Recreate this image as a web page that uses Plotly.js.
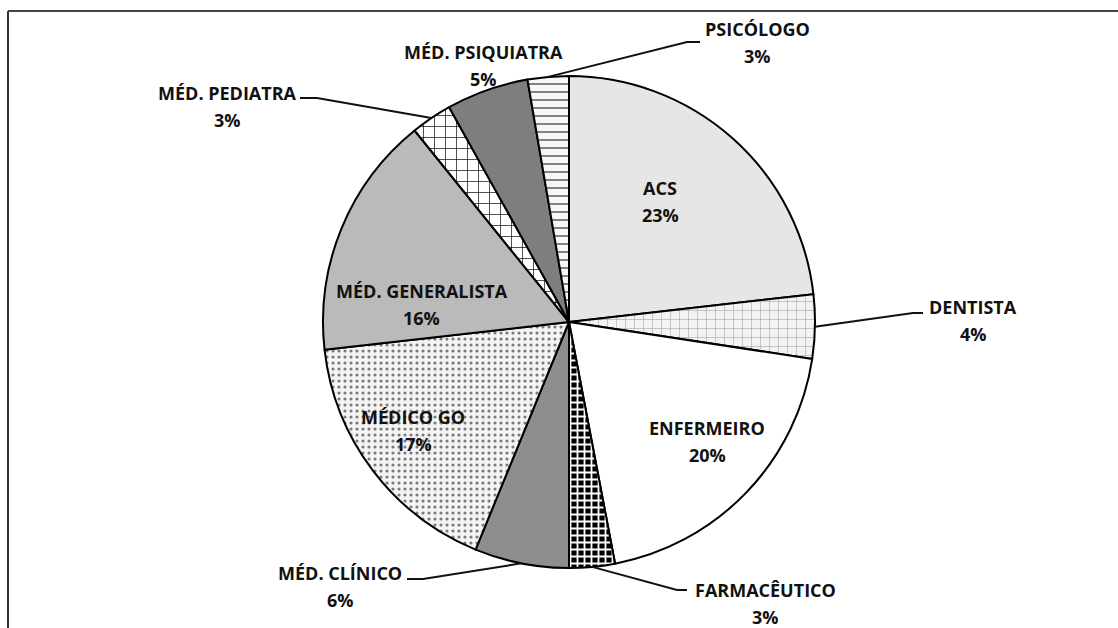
<!DOCTYPE html>
<html>
<head>
<meta charset="utf-8">
<script src="https://cdn.plot.ly/plotly-3.0.1.min.js"></script>
<style>
  html, body { margin: 0; padding: 0; background: #fff; }
  #plot { width: 1118px; height: 628px; }
</style>
</head>
<body>
<div id="plot"></div>
<script>
// slices, clockwise from 12 o'clock
var categories = ['ACS', 'DENTISTA', 'ENFERMEIRO', 'FARMACÊUTICO', 'MÉD. CLÍNICO',
                  'MÉDICO GO', 'MÉD. GENERALISTA', 'MÉD. PEDIATRA', 'MÉD. PSIQUIATRA', 'PSICÓLOGO'];
var values = [23.2, 4.2, 19.6, 3.0, 6.2, 17.0, 16.0, 2.7, 5.4, 2.7];

// fills (solid colour or pattern) per slice
var fillColors    = ['#e6e6e6', '#f3f3f3', '#ffffff', '#000000', '#8e8e8e', '#f4f4f4', '#bababa', '#ffffff', '#7e7e7e', '#f6f6f6'];
var patternShapes = ['',        '+',       '',        '+',       '',        '.',       '',        '+',       '',        '-'];
var patternFg     = ['#e6e6e6', '#a0a0a0', '#ffffff', '#ffffff', '#8e8e8e', '#7a7a7a', '#bababa', '#000000', '#7e7e7e', '#555555'];
var patternSize   = [8, 9, 8, 7, 8, 6, 8, 11, 8, 8];
var patternSolid  = [0.3, 0.12, 0.3, 0.45, 0.3, 0.22, 0.3, 0.12, 0.3, 0.18];

// figure geometry (pixels)
var W = 1118, H = 628;
var cx = 569, cy = 322, r = 246;

// label centres and leader elbows (pixels)
var labelX = [660, 973, 707, 765, 340, 413, 422, 227, 483, 757];
var labelY = [201, 320, 441, 603, 586, 430, 304, 106, 65, 42];
var elbows = [null, [[913, 313], [923, 313]], null, [[677, 590], [687, 590]], [[423, 579], [407, 579]],
              null, null, [[317, 98], [300, 98]], null, [[687, 42], [700, 42]]];

function px(x) { return x / W; }
function py(y) { return 1 - y / H; }

var total = values.reduce(function (a, b) { return a + b; }, 0);

var annotations = [];
var shapes = [];
var cum = 0;
for (var i = 0; i < values.length; i++) {
    var mid = (cum + values[i] / 2) / total * 2 * Math.PI;
    cum += values[i];
    var pct = Math.round(values[i] / total * 100) + '%';
    var f = { family: 'Open Sans', size: 18, color: '#111', weight: 700 };
    annotations.push({ x: px(labelX[i]), y: py(labelY[i] - 13), xref: 'paper', yref: 'paper',
        text: categories[i], showarrow: false, xanchor: 'center', yanchor: 'middle', font: f });
    annotations.push({ x: px(labelX[i]), y: py(labelY[i] + 14), xref: 'paper', yref: 'paper',
        text: pct, showarrow: false, xanchor: 'center', yanchor: 'middle', font: f });
    if (elbows[i]) {
        var sx = cx + r * Math.sin(mid), sy = cy - r * Math.cos(mid);
        var p = 'M ' + px(sx) + ' ' + py(sy);
        elbows[i].forEach(function (e) { p += ' L ' + px(e[0]) + ' ' + py(e[1]); });
        shapes.push({ type: 'path', xref: 'paper', yref: 'paper', path: p,
            line: { color: '#111', width: 2 } });
    }
}

// frame of the scanned figure
shapes.push({ type: 'line', xref: 'paper', yref: 'paper', x0: px(8), y0: py(11), x1: px(1118), y1: py(11),
    line: { color: '#444', width: 2 } });
shapes.push({ type: 'line', xref: 'paper', yref: 'paper', x0: px(8), y0: py(11), x1: px(8), y1: py(628),
    line: { color: '#333', width: 2 } });

var trace1 = {
    type: 'pie',
    labels: categories,
    values: values,
    sort: false,
    direction: 'clockwise',
    rotation: 0,
    textinfo: 'none',
    hoverinfo: 'label+percent',
    domain: { x: [px(cx - r), px(cx + r)], y: [py(cy + r), py(cy - r)] },
    marker: {
        colors: fillColors,
        line: { color: '#000', width: 2 },
        pattern: {
            shape: patternShapes,
            fgcolor: patternFg,
            bgcolor: fillColors,
            size: patternSize,
            solidity: patternSolid,
            fillmode: 'replace'
        }
    }
};

var data = [trace1];

var layout = {
    width: W,
    height: H,
    margin: { l: 0, r: 0, t: 0, b: 0 },
    showlegend: false,
    paper_bgcolor: '#ffffff',
    annotations: annotations,
    shapes: shapes
};

Plotly.newPlot('plot', data, layout, { displayModeBar: false });
</script>
</body>
</html>
